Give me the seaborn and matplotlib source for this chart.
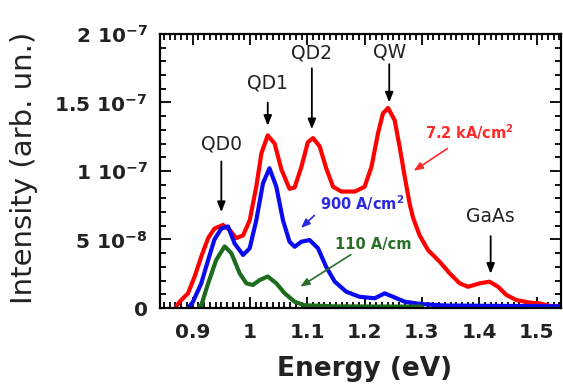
import matplotlib
matplotlib.use("Agg")
import matplotlib.pyplot as plt
import seaborn as sns
import pandas as pd
from matplotlib.ticker import MultipleLocator

# photoluminescence spectra, intensity in units of 1e-8
energy_72k = [0.872, 0.8773, 0.8918, 0.9035, 0.915, 0.927, 0.938, 0.953, 0.9646, 0.976,
              0.988, 0.9995, 1.011, 1.020, 1.031, 1.043, 1.055, 1.069, 1.078, 1.0897,
              1.101, 1.110, 1.1216, 1.133, 1.145, 1.1595, 1.183, 1.200, 1.212, 1.2234,
              1.232, 1.241, 1.2525, 1.261, 1.270, 1.2787, 1.2845, 1.296, 1.3107, 1.331,
              1.3485, 1.366, 1.3805, 1.401, 1.418, 1.433, 1.4475, 1.465, 1.488, 1.5056,
              1.523, 1.545]
int_72k = [0.15, 0.46, 1.07, 2.3, 3.75, 5.1, 5.8, 6.06, 5.7, 5.1,
           5.3, 6.4, 8.85, 11.3, 12.6, 12.0, 10.1, 8.7, 8.8, 10.3,
           12.1, 12.4, 11.8, 10.2, 8.85, 8.5, 8.5, 8.85, 10.3, 12.75,
           14.2, 14.6, 13.7, 11.8, 9.6, 7.6, 6.6, 5.3, 4.23, 3.38,
           2.53, 1.8, 1.55, 1.8, 1.92, 1.55, 0.95, 0.58, 0.39, 0.34,
           0.15, 0.1]

energy_900 = [0.895, 0.9006, 0.915, 0.927, 0.938, 0.950, 0.9617, 0.9733, 0.988, 0.9995,
              1.011, 1.0227, 1.034, 1.046, 1.0576, 1.069, 1.078, 1.0897, 1.104, 1.1187,
              1.133, 1.148, 1.168, 1.191, 1.2176, 1.235, 1.2496, 1.27, 1.299, 1.34,
              1.545]
int_900 = [0.15, 0.46, 1.8, 3.5, 5.0, 5.8, 5.95, 4.7, 3.87, 4.36,
           6.4, 9.1, 10.2, 8.85, 6.4, 4.84, 4.47, 4.84, 4.96, 4.36,
           3.0, 1.92, 1.19, 0.82, 0.71, 1.07, 0.82, 0.46, 0.29, 0.18,
           0.12]

energy_110 = [0.912, 0.915, 0.927, 0.941, 0.9558, 0.9675, 0.982, 0.9937, 1.005, 1.017,
              1.031, 1.046, 1.0606, 1.078, 1.095, 1.15, 1.30]
int_110 = [0.12, 0.2, 1.8, 3.5, 4.5, 4.0, 2.53, 1.8, 1.68, 2.04,
           2.3, 1.8, 1.07, 0.46, 0.2, 0.12, 0.1]

series_names = ["7.2 kA/cm2", "900 A/cm2", "110 A/cm2"]
series_colors = ["#ff0000", "#0a0af0", "#1d6b1d"]

ytick_values = [0, 5e-8, 1e-7, 1.5e-7, 2e-7]
ytick_labels = ["0", "5 10$^{-8}$", "1 10$^{-7}$", "1.5 10$^{-7}$", "2 10$^{-7}$"]
xtick_values = [0.9, 1.0, 1.1, 1.2, 1.3, 1.4, 1.5]
xtick_labels = ["0.9", "1", "1.1", "1.2", "1.3", "1.4", "1.5"]

# peak labels: (text, energy, text y, arrow tail y, arrow head y) in 1e-8 units
peak_labels = [("QD0", 0.950, 12.0, 10.9, 6.8),
               ("QD1", 1.031, 16.4, 15.2, 13.1),
               ("QD2", 1.108, 18.6, 17.7, 12.85),
               ("QW", 1.243, 18.7, 18.0, 14.8),
               ("GaAs", 1.420, 6.65, 5.45, 2.3)]

sns.set_theme(style="ticks")
plt.rcParams["font.family"] = ["DejaVu Sans"]
plt.rcParams["mathtext.fontset"] = "dejavusans"
plt.rcParams["mathtext.default"] = "bf"

df = pd.concat([
    pd.DataFrame({"Energy": energy_72k, "Intensity": [v * 1e-8 for v in int_72k], "J": series_names[0]}),
    pd.DataFrame({"Energy": energy_900, "Intensity": [v * 1e-8 for v in int_900], "J": series_names[1]}),
    pd.DataFrame({"Energy": energy_110, "Intensity": [v * 1e-8 for v in int_110], "J": series_names[2]}),
])

fig = plt.figure(figsize=(5.63, 3.85), dpi=100)
ax = fig.add_axes([0.2842, 0.2, 0.7125, 0.7117])

sns.lineplot(data=df, x="Energy", y="Intensity", hue="J", palette=series_colors,
             hue_order=series_names, sort=False, estimator=None, linewidth=3.0,
             legend=False, ax=ax)
for line in ax.get_lines():
    line.set_solid_joinstyle("round")
    line.set_solid_capstyle("round")

ax.set_xlim(0.843, 1.543)
ax.set_ylim(0, 2e-7)
ax.set_xticks(xtick_values, xtick_labels)
ax.set_yticks(ytick_values, ytick_labels)
ax.xaxis.set_minor_locator(MultipleLocator(0.01))
ax.yaxis.set_minor_locator(MultipleLocator(1e-8))
ax.tick_params(which="both", direction="in", top=True, right=True, color="black", width=1.3)
ax.tick_params(which="major", length=8)
ax.tick_params(which="minor", length=4)
ax.tick_params(axis="x", which="major", pad=11, labelsize=14.5)
ax.tick_params(axis="y", which="major", pad=9, labelsize=14.5)
for lbl in ax.get_xticklabels() + ax.get_yticklabels():
    lbl.set_fontweight("bold")
    lbl.set_color("#222222")
for s in ax.spines.values():
    s.set_linewidth(1.6)
    s.set_color("black")

ax.set_xlabel("Energy (eV)", fontsize=19, fontweight="bold", color="#222222")
ax.set_ylabel("Intensity (arb. un.)", fontsize=21, color="#222222")
ax.xaxis.set_label_coords(0.51, -0.175)
ax.yaxis.set_label_coords(-0.305, 0.51)

for text, xe, ty, y0, y1 in peak_labels:
    ax.text(xe, ty * 1e-8, text, ha="center", va="center", fontsize=13.5, color="#222222")
    ax.annotate("", xy=(xe, y1 * 1e-8), xytext=(xe, y0 * 1e-8),
                arrowprops=dict(arrowstyle="-|>,head_length=0.5,head_width=0.2",
                                color="black", lw=1.3))

# current density labels with their arrows
ax.text(1.305, 12.85e-8, "7.2 kA/cm$^{2}$", color="#ff2a2a", fontsize=10.5,
        fontweight="bold", va="center", ha="left")
ax.annotate("", xy=(1.2817, 9.9e-8), xytext=(1.3485, 11.75e-8),
            arrowprops=dict(arrowstyle="-|>,head_length=0.45,head_width=0.18",
                            color="#ff2a2a", lw=1.2))
ax.text(1.1216, 7.65e-8, "900 A/cm$^{2}$", color="#2a2ae0", fontsize=10.5,
        fontweight="bold", va="center", ha="left")
ax.annotate("", xy=(1.0855, 5.7e-8), xytext=(1.116, 6.9e-8),
            arrowprops=dict(arrowstyle="-|>,head_length=0.45,head_width=0.18",
                            color="#2a2ae0", lw=1.2))
ax.text(1.148, 4.67e-8, "110 A/cm", color="#2a6e2a", fontsize=10.5,
        fontweight="bold", va="center", ha="left")
ax.annotate("", xy=(1.0838, 1.45e-8), xytext=(1.18, 4.0e-8),
            arrowprops=dict(arrowstyle="-|>,head_length=0.45,head_width=0.18",
                            color="#2a6e2a", lw=1.2))

fig.savefig("out.png", dpi=100)
